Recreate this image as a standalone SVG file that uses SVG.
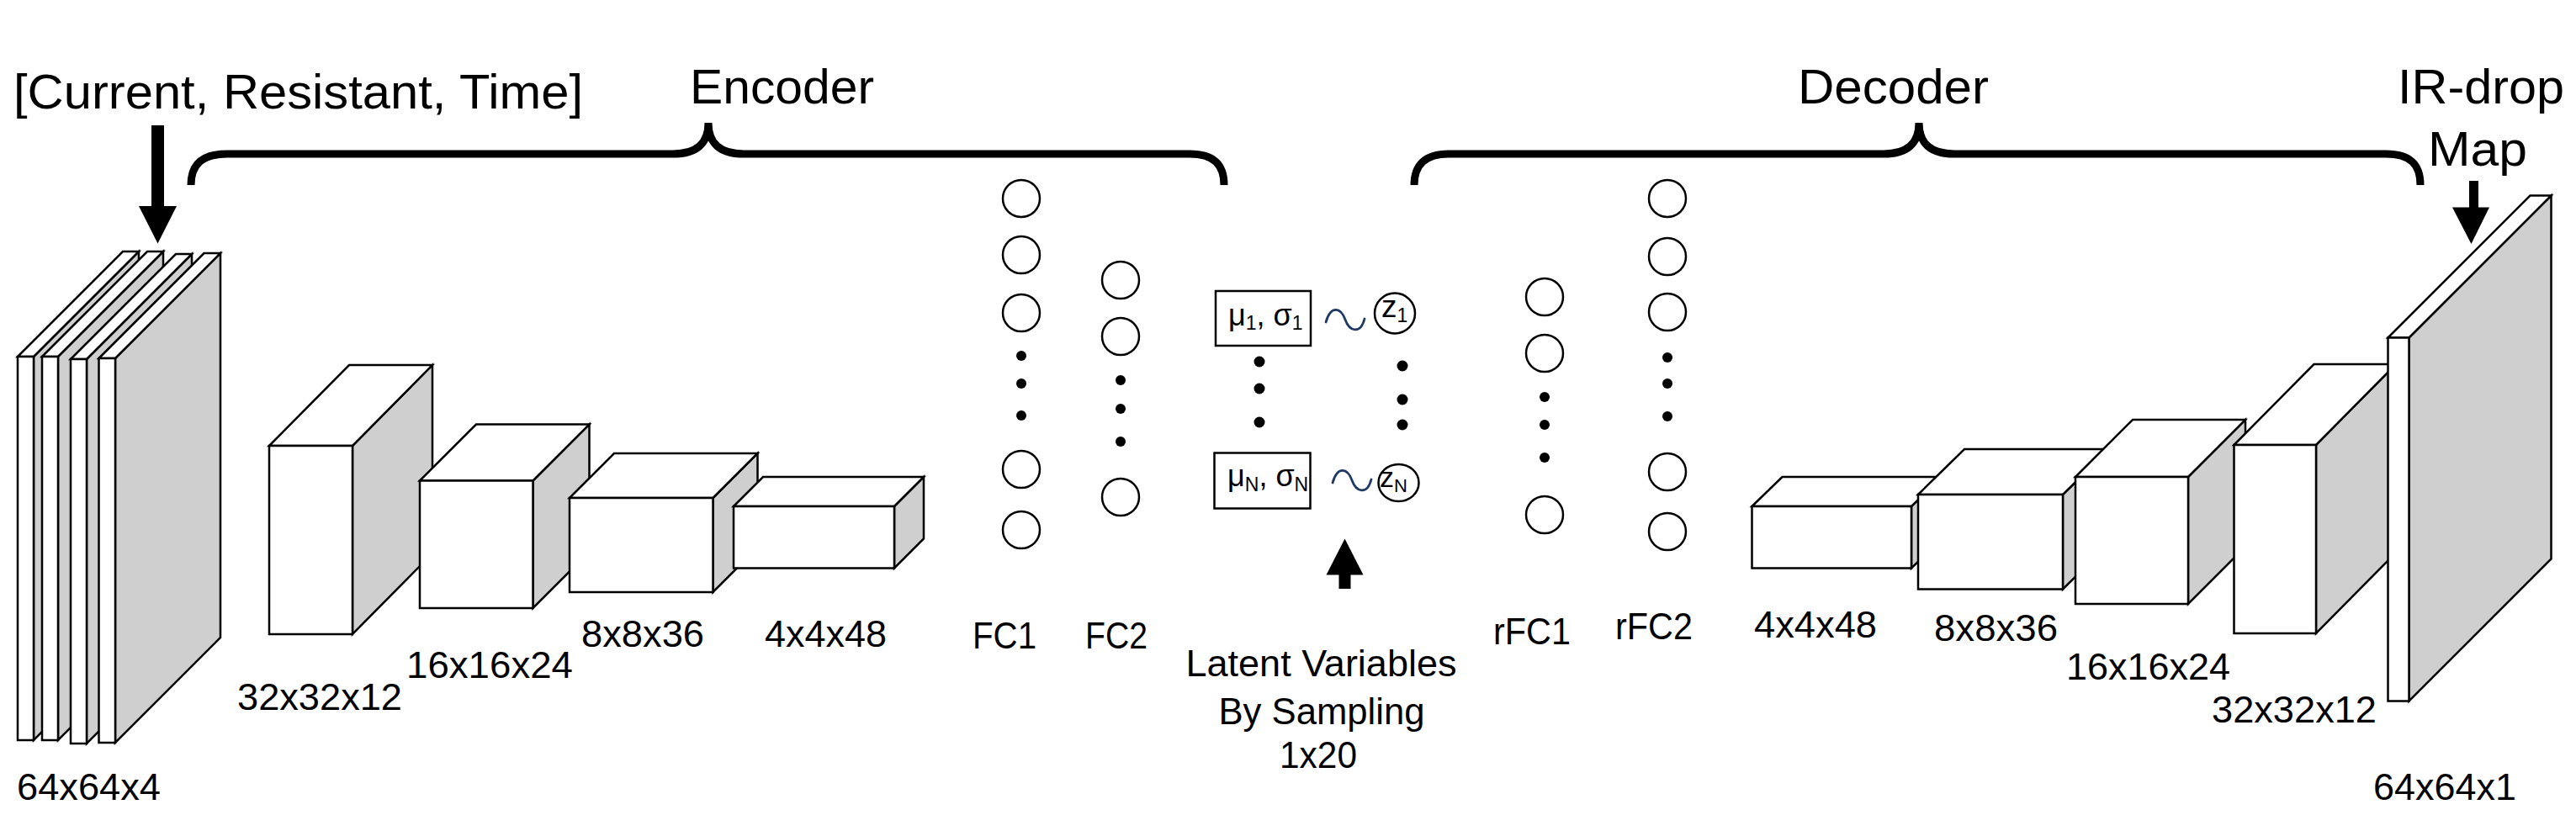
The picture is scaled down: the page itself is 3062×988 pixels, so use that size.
<svg xmlns="http://www.w3.org/2000/svg" xmlns:xlink="http://www.w3.org/1999/xlink" width="3062" height="988" viewBox="0 0 3062 988">
<style>
.t{font-family:"Liberation Sans",Arial,sans-serif;fill:#000}
.big{font-size:58px}
.lbl{font-size:44px}
.f{stroke:#000;stroke-width:2.5;stroke-linejoin:miter}
.w{fill:#fff}
.g{fill:#cfcfcf}
.n{fill:#fff;stroke:#000;stroke-width:2.5}
.d{fill:#000}
.brace{fill:none;stroke:#000;stroke-width:9;stroke-linecap:butt}
.wave{fill:none;stroke:#203864;stroke-width:2.8;stroke-linecap:round}
</style>
<defs>
<path id="tilde" class="wave" d="M0 3 C6 -18 18 -14 23 0 C28 14 41 18 46 -1"/>
</defs>
<rect width="3062" height="988" fill="#fff"/>

<g id="titles">
<text class="t big" x="16" y="129" textLength="677" lengthAdjust="spacingAndGlyphs">[Current, Resistant, Time]</text>
<text class="t big" x="820" y="123" textLength="219" lengthAdjust="spacingAndGlyphs">Encoder</text>
<text class="t big" x="2137" y="123" textLength="227" lengthAdjust="spacingAndGlyphs">Decoder</text>
<text class="t big" x="2850" y="123" textLength="198" lengthAdjust="spacingAndGlyphs">IR-drop</text>
<text class="t big" x="2886" y="197" textLength="118" lengthAdjust="spacingAndGlyphs">Map</text>
</g>

<g id="connectors">
<path class="brace" d="M227 220 C227 196 240 183 270 183 H800 Q842 183 842 146 M842 146 Q842 183 884 183 H1414 C1443 183 1455 196 1455 220"/>
<path class="brace" d="M1681 220 C1681 196 1694 183 1722 183 H2239 Q2281 183 2281 146 M2281 146 Q2281 183 2323 183 H2836 C2866 183 2877 196 2877 220"/>
<rect x="180" y="149" width="15" height="98" fill="#000"/>
<polygon points="165,245 210,245 187.5,289.5" fill="#000"/>
<rect x="2935" y="215" width="11" height="33" fill="#000"/>
<polygon points="2915,246.5 2959,246.5 2937.5,290" fill="#000"/>
<rect x="1591.5" y="681" width="14" height="19" fill="#000"/>
<polygon points="1576.5,683.5 1620.5,683.5 1598.5,640.5" fill="#000"/>
<use xlink:href="#tilde" href="#tilde" x="1576" y="380"/>
<use xlink:href="#tilde" href="#tilde" x="1584" y="571"/>
</g>

<g id="input">
<polygon class="f g" points="40,424 165,299 165,755 40,880"/>
<polygon class="f w" points="21,424 146,299 165,299 40,424"/>
<rect class="f w" x="21" y="424" width="19" height="456"/>
<polygon class="f g" points="69,424 194,299 194,755 69,880"/>
<polygon class="f w" points="50,424 175,299 194,299 69,424"/>
<rect class="f w" x="50" y="424" width="19" height="456"/>
<polygon class="f g" points="103,427 228,302 228,759 103,884"/>
<polygon class="f w" points="84,427 209,302 228,302 103,427"/>
<rect class="f w" x="84" y="427" width="19" height="457"/>
<polygon class="f g" points="137,426 262,301 262,758 137,883"/>
<polygon class="f w" points="117.5,426 242.5,301 262,301 137,426"/>
<rect class="f w" x="117.5" y="426" width="19.5" height="457"/>
<text class="t lbl" x="20" y="951" textLength="171" lengthAdjust="spacingAndGlyphs">64x64x4</text>
</g>

<g id="enc1">
<polygon class="f g" points="419,530 514,434 514,658 419,754"/>
<polygon class="f w" points="320,530 415,434 514,434 419,530"/>
<rect class="f w" x="320" y="530" width="99" height="224"/>
<text class="t lbl" x="282" y="844" textLength="196" lengthAdjust="spacingAndGlyphs">32x32x12</text>
</g>
<g id="enc2">
<polygon class="f g" points="633.5,571.5 700.5,504.5 700.5,656 633.5,723"/>
<polygon class="f w" points="499,571.5 566,504.5 700.5,504.5 633.5,571.5"/>
<rect class="f w" x="499" y="571.5" width="134.5" height="151.5"/>
<text class="t lbl" x="483" y="806" textLength="198" lengthAdjust="spacingAndGlyphs">16x16x24</text>
</g>
<g id="enc3">
<polygon class="f g" points="847.5,592 900.5,539 900.5,651 847.5,704"/>
<polygon class="f w" points="677,592 730,539 900.5,539 847.5,592"/>
<rect class="f w" x="677" y="592" width="170.5" height="112"/>
<text class="t lbl" x="691" y="769" textLength="146" lengthAdjust="spacingAndGlyphs">8x8x36</text>
</g>
<g id="enc4">
<polygon class="f g" points="1063,602 1098,567 1098,640.5 1063,675.5"/>
<polygon class="f w" points="872,602 907,567 1098,567 1063,602"/>
<rect class="f w" x="872" y="602" width="191" height="73.5"/>
<text class="t lbl" x="909" y="769" textLength="145" lengthAdjust="spacingAndGlyphs">4x4x48</text>
</g>

<g id="fc1">
<circle class="n" cx="1214" cy="236" r="22"/>
<circle class="n" cx="1214" cy="303" r="22"/>
<circle class="n" cx="1214" cy="372" r="22"/>
<circle class="d" cx="1214" cy="423" r="6"/>
<circle class="d" cx="1214" cy="456" r="6"/>
<circle class="d" cx="1214" cy="494" r="6"/>
<circle class="n" cx="1214" cy="558" r="22"/>
<circle class="n" cx="1214" cy="630" r="22"/>
<text class="t lbl" x="1156" y="771" textLength="76" lengthAdjust="spacingAndGlyphs">FC1</text>
</g>
<g id="fc2">
<circle class="n" cx="1332" cy="333" r="22"/>
<circle class="n" cx="1332" cy="400" r="22"/>
<circle class="d" cx="1332" cy="452" r="6"/>
<circle class="d" cx="1332" cy="486" r="6"/>
<circle class="d" cx="1332" cy="525" r="6"/>
<circle class="n" cx="1332" cy="591" r="22"/>
<text class="t lbl" x="1290" y="771" textLength="74" lengthAdjust="spacingAndGlyphs">FC2</text>
</g>

<g id="latent">
<rect class="f w" x="1445" y="346" width="113" height="65"/>
<text class="t" x="1460" y="387" style="font-size:36px">μ<tspan style="font-size:23px" dy="5">1</tspan><tspan dy="-5">, σ</tspan><tspan style="font-size:23px" dy="5">1</tspan></text>
<circle class="d" cx="1497" cy="430" r="6.5"/>
<circle class="d" cx="1497" cy="462" r="6.5"/>
<circle class="d" cx="1497" cy="502" r="6.5"/>
<rect class="f w" x="1443.5" y="538.5" width="114" height="66"/>
<text class="t" x="1459" y="578" style="font-size:36px">μ<tspan style="font-size:23px" dy="6">N</tspan><tspan dy="-6">, σ</tspan><tspan style="font-size:23px" dy="6">N</tspan></text>
<circle class="n" cx="1658" cy="372.5" r="24"/>
<text class="t" x="1642" y="377" style="font-size:37px">z<tspan style="font-size:23px" dy="6">1</tspan></text>
<circle class="d" cx="1667" cy="435" r="6.5"/>
<circle class="d" cx="1667" cy="475" r="6.5"/>
<circle class="d" cx="1667" cy="505" r="6.5"/>
<ellipse class="n" cx="1662.5" cy="574" rx="24" ry="22"/>
<text class="t" x="1640" y="579" style="font-size:34px">z<tspan style="font-size:22px" dy="6">N</tspan></text>
<text class="t lbl" x="1570.5" y="804" text-anchor="middle" textLength="322" lengthAdjust="spacingAndGlyphs">Latent Variables</text>
<text class="t lbl" x="1571" y="861" text-anchor="middle" textLength="245" lengthAdjust="spacingAndGlyphs">By Sampling</text>
<text class="t lbl" x="1567" y="913" text-anchor="middle" textLength="92" lengthAdjust="spacingAndGlyphs">1x20</text>
</g>

<g id="rfc1">
<circle class="n" cx="1836" cy="353" r="22"/>
<circle class="n" cx="1836" cy="420" r="22"/>
<circle class="d" cx="1836" cy="472" r="6"/>
<circle class="d" cx="1836" cy="505" r="6"/>
<circle class="d" cx="1836" cy="544" r="6"/>
<circle class="n" cx="1836" cy="612" r="22"/>
<text class="t lbl" x="1775" y="766" textLength="92" lengthAdjust="spacingAndGlyphs">rFC1</text>
</g>
<g id="rfc2">
<circle class="n" cx="1982" cy="236" r="22"/>
<circle class="n" cx="1982" cy="305" r="22"/>
<circle class="n" cx="1982" cy="371" r="22"/>
<circle class="d" cx="1982" cy="425" r="6"/>
<circle class="d" cx="1982" cy="456" r="6"/>
<circle class="d" cx="1982" cy="495" r="6"/>
<circle class="n" cx="1982" cy="561" r="22"/>
<circle class="n" cx="1982" cy="632" r="22"/>
<text class="t lbl" x="1920" y="760" textLength="92" lengthAdjust="spacingAndGlyphs">rFC2</text>
</g>

<g id="dec4">
<polygon class="f g" points="2272,602 2308,567 2308,640.5 2272,675.5"/>
<polygon class="f w" points="2082.5,602 2118.5,567 2308,567 2272,602"/>
<rect class="f w" x="2082.5" y="602" width="189.5" height="73.5"/>
<text class="t lbl" x="2085" y="758" textLength="146" lengthAdjust="spacingAndGlyphs">4x4x48</text>
</g>
<g id="dec3">
<polygon class="f g" points="2452,588 2507,534 2507,646.5 2452,700.5"/>
<polygon class="f w" points="2280,588 2335,534 2507,534 2452,588"/>
<rect class="f w" x="2280" y="588" width="172" height="112.5"/>
<text class="t lbl" x="2299" y="762" textLength="147" lengthAdjust="spacingAndGlyphs">8x8x36</text>
</g>
<g id="dec2">
<polygon class="f g" points="2601,567 2669,499 2669,650 2601,718"/>
<polygon class="f w" points="2467,567 2535,499 2669,499 2601,567"/>
<rect class="f w" x="2467" y="567" width="134" height="151"/>
<text class="t lbl" x="2456" y="808" textLength="195" lengthAdjust="spacingAndGlyphs">16x16x24</text>
</g>
<g id="dec1">
<polygon class="f g" points="2753,529 2848,433 2848,657 2753,753"/>
<polygon class="f w" points="2655.5,529 2750.5,433 2848,433 2753,529"/>
<rect class="f w" x="2655.5" y="529" width="97.5" height="224"/>
<text class="t lbl" x="2629" y="859" textLength="196" lengthAdjust="spacingAndGlyphs">32x32x12</text>
</g>
<g id="output">
<polygon class="f g" points="2863.5,401.5 3032.5,232.5 3032.5,664.5 2863.5,833.5"/>
<polygon class="f w" points="2838.5,401.5 3007.5,232.5 3032.5,232.5 2863.5,401.5"/>
<rect class="f w" x="2838.5" y="401.5" width="25" height="432"/>
<text class="t lbl" x="2821" y="951" textLength="170" lengthAdjust="spacingAndGlyphs">64x64x1</text>
</g>
</svg>
